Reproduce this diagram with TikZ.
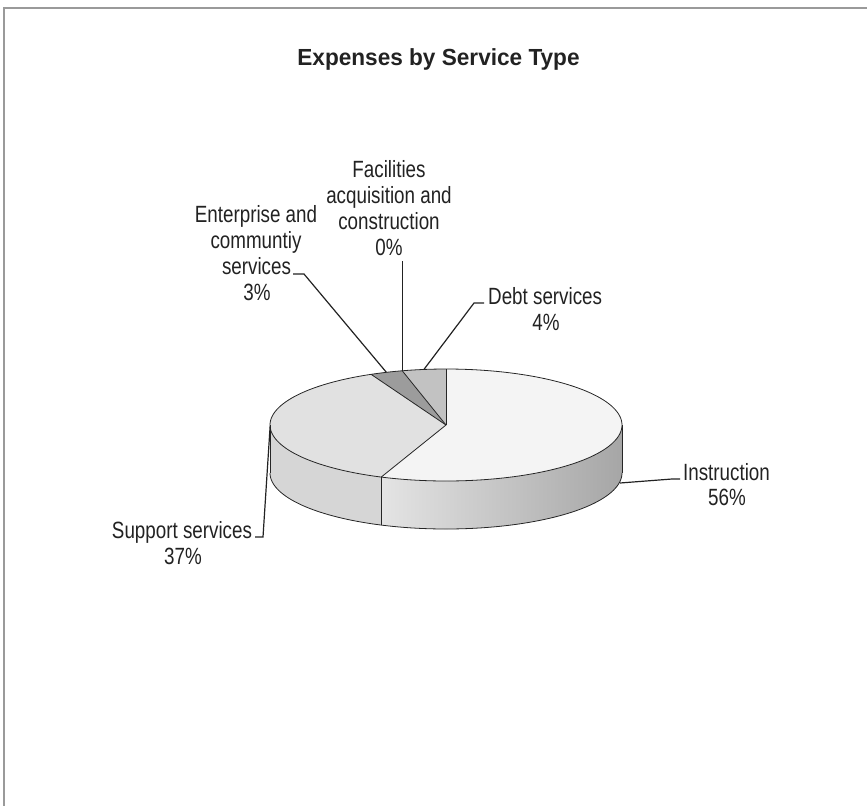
\documentclass[tikz,border=0pt]{standalone}
\usepackage{fontspec}
\setmainfont{Liberation Sans}
\newfontfamily\lblfont[FakeStretch=0.8]{Liberation Sans}
\newfontfamily\ttlfont[FakeStretch=0.97]{Liberation Sans}
\definecolor{ink}{HTML}{222222}
\definecolor{framec}{HTML}{9A9A9A}
\definecolor{instop}{HTML}{F4F4F4}
\definecolor{suptop}{HTML}{E1E1E1}
\definecolor{enttop}{HTML}{9C9C9C}
\definecolor{debtop}{HTML}{C2C2C2}
\definecolor{supside}{HTML}{D6D6D6}
\definecolor{insideL}{HTML}{E4E4E4}
\definecolor{insideR}{HTML}{A6A6A6}
\begin{document}
\begin{tikzpicture}[x=1pt,y=-1pt,
  lbl/.style={font=\lblfont\fontsize{23.5}{26}\selectfont, text=ink, inner sep=0pt, anchor=base},
  ttl/.style={font=\ttlfont\bfseries\fontsize{23.3}{26}\selectfont, text=ink, inner sep=0pt, anchor=base},
  leader/.style={draw=ink, line width=1.2pt},
  pieedge/.style={draw=black!85, line width=0.8pt, line join=round},
  frameline/.style={draw=framec, line width=1.2pt}]
\useasboundingbox (0,0) rectangle (867,806);

% frame
\coordinate (fTL) at (4,8);
\coordinate (fTR) at (867,8);
\coordinate (fBL) at (4,806);
\draw[frameline] (fTR) -- (fTL) -- (fBL);

% title
\node[ttl] (title) at (438.5,65) {Expenses by Service Type};

% pie geometry: centre (446,425), radii 176 x 56, depth 48
\coordinate (C) at (446,425);

% side faces
\shade[left color=insideL, right color=insideR]
  plot[domain=90:201.6,samples=80,variable=\t]({446+176*sin(\t)},{425-56*cos(\t)})
  -- plot[domain=201.6:90,samples=80,variable=\t]({446+176*sin(\t)},{473-56*cos(\t)}) -- cycle;
\fill[supside]
  plot[domain=201.6:270,samples=60,variable=\t]({446+176*sin(\t)},{425-56*cos(\t)})
  -- plot[domain=270:201.6,samples=60,variable=\t]({446+176*sin(\t)},{473-56*cos(\t)}) -- cycle;

% top faces
\fill[instop] (C) -- plot[domain=0:201.6,samples=120,variable=\t]({446+176*sin(\t)},{425-56*cos(\t)}) -- cycle;
\fill[suptop] (C) -- plot[domain=201.6:334.8,samples=80,variable=\t]({446+176*sin(\t)},{425-56*cos(\t)}) -- cycle;
\fill[enttop] (C) -- plot[domain=334.8:345.6,samples=20,variable=\t]({446+176*sin(\t)},{425-56*cos(\t)}) -- cycle;
\fill[debtop] (C) -- plot[domain=345.6:360,samples=20,variable=\t]({446+176*sin(\t)},{425-56*cos(\t)}) -- cycle;

% edges
\draw[pieedge] plot[domain=0:360,samples=200,variable=\t]({446+176*sin(\t)},{425-56*cos(\t)}) -- cycle;
\draw[pieedge] plot[domain=90:270,samples=120,variable=\t]({446+176*sin(\t)},{473-56*cos(\t)});
\coordinate (eR1) at (622,425); \coordinate (eR2) at (622,473);
\coordinate (eL1) at (270,425); \coordinate (eL2) at (270,473);
\coordinate (s1) at ({446+176*sin(201.6)},{425-56*cos(201.6)});
\coordinate (s2) at ({446+176*sin(201.6)},{473-56*cos(201.6)});
\coordinate (r0) at (446,369);
\coordinate (r2) at ({446+176*sin(334.8)},{425-56*cos(334.8)});
\coordinate (r3) at ({446+176*sin(345.6)},{425-56*cos(345.6)});
\draw[pieedge] (eR1) -- (eR2);
\draw[pieedge] (eL1) -- (eL2);
\draw[pieedge] (s1) -- (s2);
\draw[pieedge] (C) -- (r0);
\draw[pieedge] (C) -- (s1);
\draw[pieedge] (C) -- (r2);
\draw[pieedge] (C) -- (r3);

% leader anchor points on the pie
\coordinate (pSup) at ({446+176*sin(268.2)},{425-56*cos(268.2)});
\coordinate (pEnt) at ({446+176*sin(340.2)},{425-56*cos(340.2)});
\coordinate (pFac) at (r3);
\coordinate (pDebt) at ({446+176*sin(352.8)},{425-56*cos(352.8)});
\coordinate (pIns) at (620,483);

% labels
\node[lbl] (fac1) at (389,177) {Facilities};
\node[lbl] (fac2) at (389,203) {acquisition and};
\node[lbl] (fac3) at (389,229) {construction};
\node[lbl] (fac4) at (389,255) {0\%};

\node[lbl] (ent1) at (256,222) {Enterprise and};
\node[lbl] (ent2) at (256,248) {communtiy};
\node[lbl] (ent3) at (256.5,274) {services};
\node[lbl] (ent4) at (257,300) {3\%};

\node[lbl, anchor=base west] (deb1) at (488,304) {Debt services};
\node[lbl] (deb2) at (546,330) {4\%};

\node[lbl] (ins1) at (726.5,480) {Instruction};
\node[lbl] (ins2) at (727,505) {56\%};

\node[lbl] (sup1) at (182,538) {Support services};
\node[lbl] (sup2) at (183,564) {37\%};

% leaders
\coordinate (kFacTop) at ({446+176*sin(345.6)},261);
\draw[leader] (pFac) -- (kFacTop);

\coordinate (kEnt) at (304,274);
\coordinate (tEnt) at (293,274);
\draw[leader] (pEnt) -- (kEnt) -- (tEnt);

\coordinate (kDeb) at (474,303);
\coordinate (tDeb) at (484,303);
\draw[leader] (pDebt) -- (kDeb) -- (tDeb);

\coordinate (kIns) at (672,479);
\coordinate (tIns) at (680,479);
\draw[leader] (pIns) -- (kIns) -- (tIns);

\coordinate (kSup) at (263,537);
\coordinate (tSup) at (255,537);
\draw[leader] (pSup) -- (kSup) -- (tSup);
\end{tikzpicture}
\end{document}
